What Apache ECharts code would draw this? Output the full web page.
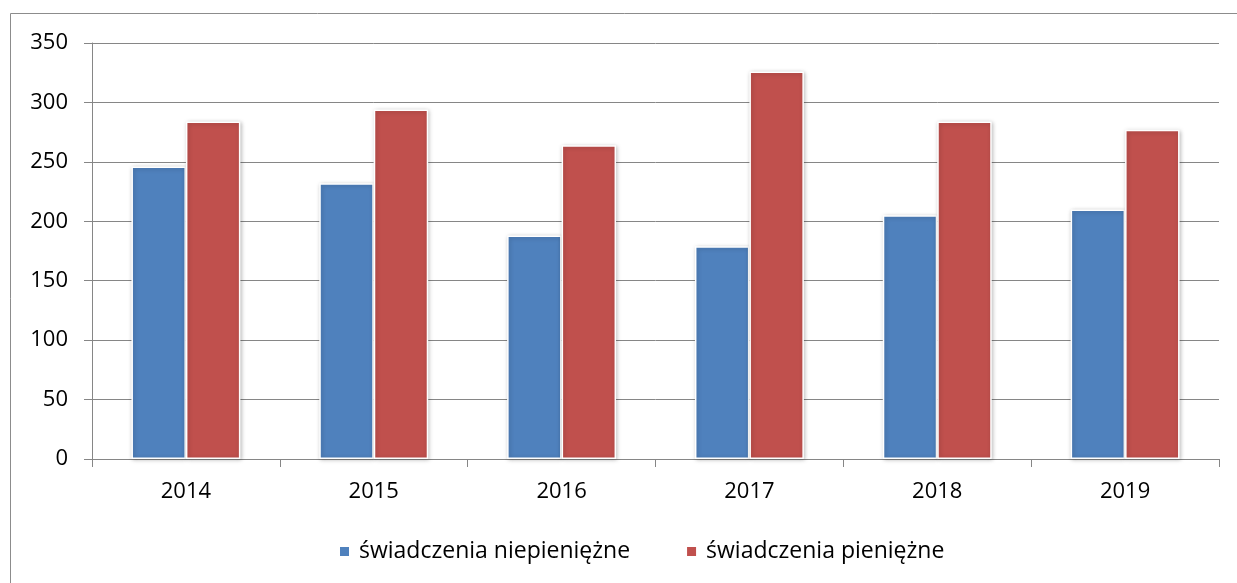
<!DOCTYPE html>
<html><head><meta charset="utf-8">
<script src="https://cdn.jsdelivr.net/npm/echarts@6/dist/echarts.min.js"></script>
<style>html,body{margin:0;padding:0;background:#fff}#c{width:1237px;height:583px}</style>
</head><body><div id="c"></div>
<script>
const categories = ['2014','2015','2016','2017','2018','2019'];
const seriesNames = ['świadczenia niepieniężne','świadczenia pieniężne'];
const nonCash = [246, 232, 188, 179, 205, 210];
const cash = [284, 294, 264, 326, 284, 277];
const yTicks = [0, 50, 100, 150, 200, 250, 300, 350];

const font = '"Open Sans", "Noto Sans", sans-serif';
const chart = echarts.init(document.getElementById('c'));
const barStyle = (c) => ({color: c, borderColor: '#fff', borderWidth: 1.5, shadowBlur: 4, shadowColor: 'rgba(0,0,0,0.25)', shadowOffsetX: 1, shadowOffsetY: 1});
chart.setOption({
  animation: false,
  graphic: [{type: 'rect', shape: {x: 10.5, y: 13.5, width: 1240, height: 600}, style: {fill: 'none', stroke: '#8c8c8c', lineWidth: 1}, silent: true}],
  grid: {left: 92, right: 18, top: 43, bottom: 124},
  legend: {top: 535, left: 333, itemWidth: 11, itemHeight: 11, itemGap: 55, icon: 'rect',
    textStyle: {fontFamily: font, fontSize: 23, color: '#000', padding: [0, 0, 0, 4]}, data: seriesNames},
  xAxis: {type: 'category', data: categories,
    axisLine: {lineStyle: {color: '#868686'}},
    axisTick: {show: true, length: 8, lineStyle: {color: '#868686'}},
    axisLabel: {fontFamily: font, fontSize: 22, color: '#000', margin: 22}},
  yAxis: {type: 'value', min: 0, max: 350, interval: 50,
    axisLine: {show: true, lineStyle: {color: '#868686'}},
    axisTick: {show: true, length: 8, lineStyle: {color: '#868686'}},
    splitLine: {lineStyle: {color: '#868686', width: 1}},
    axisLabel: {fontFamily: font, fontSize: 22, color: '#000', margin: 24,
      formatter: v => yTicks.includes(v) ? String(v) : ''}},
  series: [
    {name: seriesNames[0], type: 'bar', data: nonCash, barWidth: '29%', barGap: '0%', itemStyle: barStyle('#4f81bd')},
    {name: seriesNames[1], type: 'bar', data: cash, barWidth: '29%', barGap: '0%', itemStyle: barStyle('#c0504d')}
  ]
});
</script></body></html>
